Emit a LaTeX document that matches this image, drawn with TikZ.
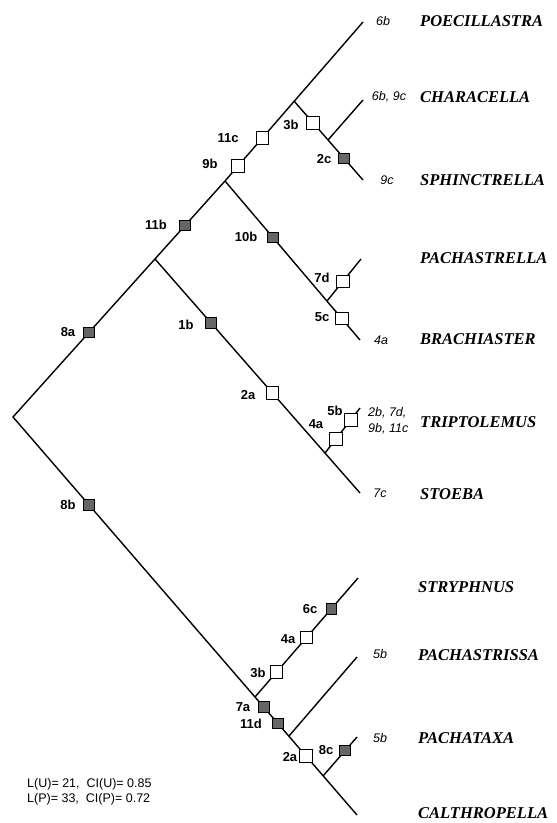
\documentclass[tikz,border=0pt]{standalone}
\usepackage{fontspec}
\setmainfont{Liberation Serif}
\setsansfont{Liberation Sans}
\usetikzlibrary{calc}
\begin{document}
\begin{tikzpicture}[x=1pt,y=-1pt,
  br/.style={line width=1.4pt, line join=miter, line cap=butt},
  wbox/.style={draw, line width=0.9pt, fill=white, minimum size=12.5pt, inner sep=0pt},
  gbox/.style={draw, line width=0.9pt, fill=black!60, minimum size=10.5pt, inner sep=0pt},
  chr/.style={font=\sffamily\bfseries\fontsize{13}{13}\selectfont, inner sep=0pt},
  apo/.style={font=\sffamily\itshape\fontsize{12.5}{15}\selectfont, inner sep=0pt},
  taxon/.style={font=\rmfamily\bfseries\itshape\fontsize{16.5}{16.5}\selectfont, anchor=west, inner sep=0pt},
  stat/.style={font=\sffamily\fontsize{12.5}{12.5}\selectfont, anchor=west, inner sep=0pt}
]
\useasboundingbox (0,0) rectangle (557,823);
% internal nodes
\coordinate (R) at (13,417);
\coordinate (A) at (155,259);
\coordinate (B) at (225,181);
\coordinate (C) at (294,101);
\coordinate (D) at (328,140);
\coordinate (E) at (327,301);
\coordinate (F) at (325,453);
\coordinate (G) at (255,697);
\coordinate (H) at (289,736);
\coordinate (I) at (323,776);
% tips
\coordinate (tPoe) at (363,22);
\coordinate (tCha) at (363,100);
\coordinate (tSph) at (363,180);
\coordinate (tPac) at (361,259);
\coordinate (tBra) at (360,340);
\coordinate (tTri) at (360,408);
\coordinate (tSto) at (360,493);
\coordinate (tStr) at (358,578);
\coordinate (tPss) at (357,657);
\coordinate (tPtx) at (357,737);
\coordinate (tCal) at (357,815);
% branches
\draw[br] (tPoe) -- (B) -- (R) -- (tCal);
\draw[br] (A) -- (tSto);
\draw[br] (B) -- (tBra);
\draw[br] (C) -- (tSph);
\draw[br] (D) -- (tCha);
\draw[br] (E) -- (tPac);
\draw[br] (F) -- (tTri);
\draw[br] (G) -- (tStr);
\draw[br] (H) -- (tPss);
\draw[br] (I) -- (tPtx);
% character boxes
\node[wbox] (x9b) at ($(B)!0.19!(C)$) {};
\node[wbox] (x11c) at ($(B)!0.54!(C)$) {};
\node[wbox] (x3b) at ($(C)!0.56!(D)$) {};
\node[gbox] (x2c) at ($(D)!0.46!(tSph)$) {};
\node[gbox] (x11b) at ($(A)!0.43!(B)$) {};
\node[gbox] (x10b) at ($(B)!0.47!(E)$) {};
\node[wbox] (x7d) at ($(E)!0.47!(tPac)$) {};
\node[wbox] (x5c) at ($(E)!0.45!(tBra)$) {};
\node[gbox] (x8a) at ($(R)!0.535!(A)$) {};
\node[gbox] (x1b) at ($(A)!0.33!(F)$) {};
\node[wbox] (x2a) at ($(A)!0.69!(F)$) {};
\node[wbox] (x4a) at ($(F)!0.31!(tTri)$) {};
\node[wbox] (x5b) at ($(F)!0.74!(tTri)$) {};
\node[gbox] (x8b) at ($(R)!0.314!(G)$) {};
\node[wbox] (y3b) at ($(G)!0.21!(tStr)$) {};
\node[wbox] (y4a) at ($(G)!0.5!(tStr)$) {};
\node[gbox] (y6c) at ($(G)!0.74!(tStr)$) {};
\node[gbox] (y7a) at ($(G)!0.26!(H)$) {};
\node[gbox] (y11d) at ($(G)!0.68!(H)$) {};
\node[wbox] (y2a) at ($(H)!0.5!(I)$) {};
\node[gbox] (y8c) at ($(I)!0.65!(tPtx)$) {};
% character labels
\node[chr] (l9b) at (210,164) {9b};
\node[chr] (l11c) at (228,138) {11c};
\node[chr] (l3b) at (291,125) {3b};
\node[chr] (l2c) at (324,159) {2c};
\node[chr] (l11b) at (156,225) {11b};
\node[chr] (l10b) at (246,237) {10b};
\node[chr] (l7d) at (322,278) {7d};
\node[chr] (l5c) at (322,317) {5c};
\node[chr] (l8a) at (68,332) {8a};
\node[chr] (l1b) at (186,325) {1b};
\node[chr] (l2a) at (248,395) {2a};
\node[chr] (l4a) at (316,424) {4a};
\node[chr] (l5b) at (335,411) {5b};
\node[chr] (l8b) at (68,505) {8b};
\node[chr] (m6c) at (310,609) {6c};
\node[chr] (m4a) at (288,639) {4a};
\node[chr] (m3b) at (258,673) {3b};
\node[chr] (m7a) at (243,707) {7a};
\node[chr] (m11d) at (251,724) {11d};
\node[chr] (m2a) at (290,757) {2a};
\node[chr] (m8c) at (326,750) {8c};
% homoplasy labels
\node[apo] (h1) at (383,21) {6b};
\node[apo] (h2) at (389,97) {6b, 9c};
\node[apo] (h3) at (387,180) {9c};
\node[apo] (h4) at (381,340) {4a};
\node[apo, anchor=west] (h5) at (368,413) {2b, 7d,};
\node[apo, anchor=west] (h6) at (368,429) {9b, 11c};
\node[apo] (h7) at (380,493) {7c};
\node[apo] (h8) at (380,654) {5b};
\node[apo] (h9) at (380,738) {5b};
% taxa
\node[taxon] (T1) at (420,21) {POECILLASTRA};
\node[taxon] (T2) at (420,97) {CHARACELLA};
\node[taxon] (T3) at (420,180) {SPHINCTRELLA};
\node[taxon] (T4) at (420,258) {PACHASTRELLA};
\node[taxon] (T5) at (420,339) {BRACHIASTER};
\node[taxon] (T6) at (420,422) {TRIPTOLEMUS};
\node[taxon] (T7) at (420,494) {STOEBA};
\node[taxon] (T8) at (418,587) {STRYPHNUS};
\node[taxon] (T9) at (418,655) {PACHASTRISSA};
\node[taxon] (T10) at (418,738) {PACHATAXA};
\node[taxon] (T11) at (418,813) {CALTHROPELLA};
% statistics
\node[stat] (s1) at (27,784) {L(U)= 21, \ CI(U)= 0.85};
\node[stat] (s2) at (27,799) {L(P)= 33, \ CI(P)= 0.72};
\end{tikzpicture}
\end{document}
